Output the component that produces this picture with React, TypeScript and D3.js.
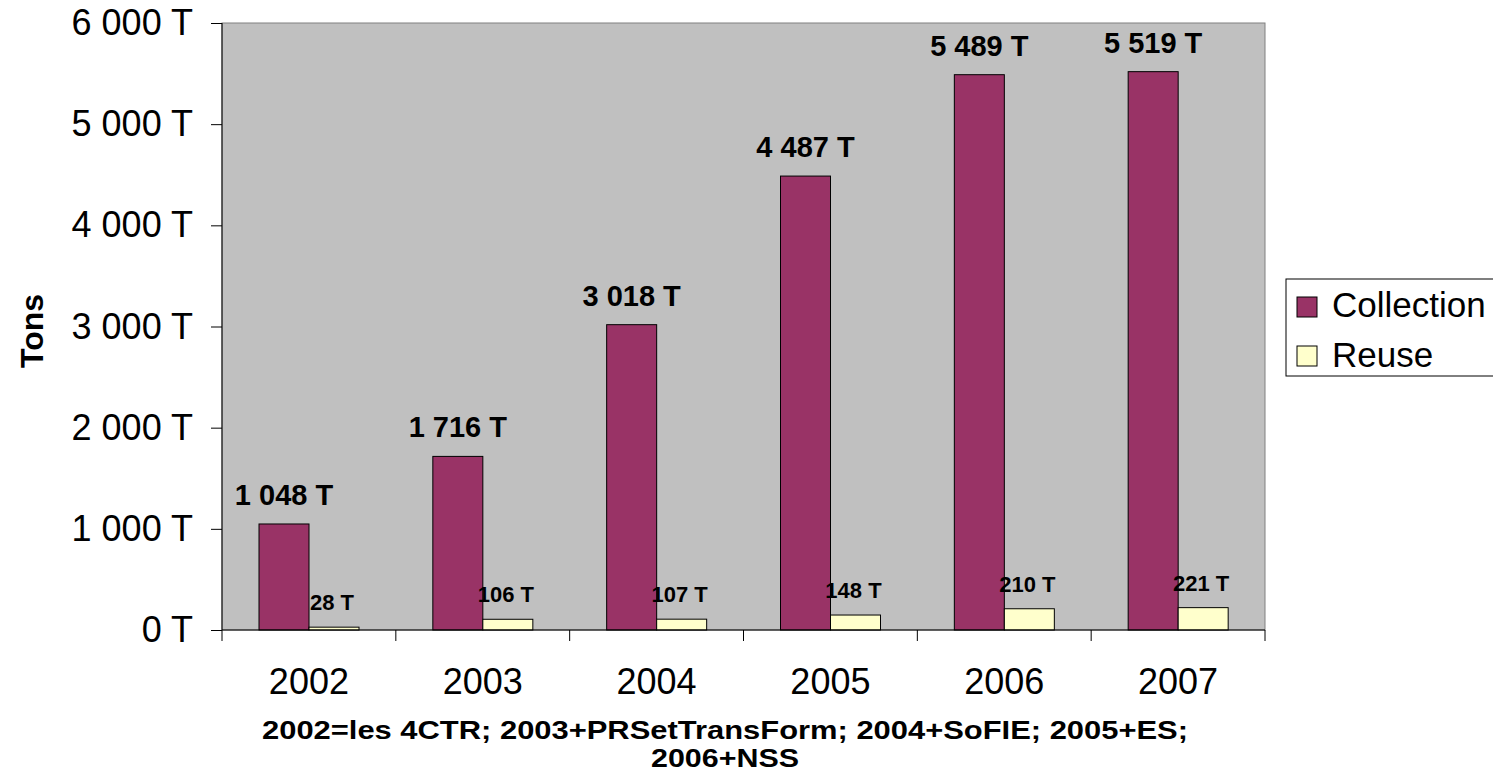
import React, { useRef, useEffect } from 'react';
import * as d3 from 'd3';

const years = ['2002', '2003', '2004', '2005', '2006', '2007'];
const collection = [1048, 1716, 3018, 4487, 5489, 5519];
const reuse = [28, 106, 107, 148, 210, 221];
const yTicks = [0, 1000, 2000, 3000, 4000, 5000, 6000];
const seriesNames = ['Collection', 'Reuse'];
const seriesColors = ['#993366', '#FFFFCC'];
const captionLines = ['2002=les 4CTR; 2003+PRSetTransForm; 2004+SoFIE; 2005+ES;', '2006+NSS'];
const captionWidths = [926, 148];

const fmt = (v: number) => d3.format(',')(v).replace(/,/g, ' ') + ' T';

const App = () => {
    const svgRef = useRef<SVGSVGElement>(null);

    const W = 1493;
    const H = 774;
    const margin = { top: 23, right: 228, bottom: 144, left: 222 };
    const width = W - margin.left - margin.right;
    const height = H - margin.top - margin.bottom;

    useEffect(() => {
        const svg = d3.select(svgRef.current);
        svg.selectAll('*').remove();
        svg.attr('width', W).attr('height', H);

        const font = '"Liberation Sans", Arial, sans-serif';

        const x = d3.scaleBand().domain(years).range([0, width]);
        const inner = d3.scaleBand().domain(seriesNames).range([37, 137]);
        const y = d3.scaleLinear().domain([0, 6000]).range([height, 0]);

        const chart = svg.append('g').attr('transform', `translate(${margin.left}, ${margin.top})`);

        // plot background
        chart.append('rect')
            .attr('width', width).attr('height', height)
            .attr('fill', '#C0C0C0')
            .attr('stroke', '#808080').attr('stroke-width', 1);

        const series = [collection, reuse];
        series.forEach((vals, si) => {
            chart.selectAll(`.bar${si}`)
                .data(vals)
                .enter()
                .append('rect')
                .attr('x', (d, i) => x(years[i])! + inner(seriesNames[si])!)
                .attr('y', (d) => y(d))
                .attr('width', inner.bandwidth())
                .attr('height', (d) => height - y(d))
                .attr('fill', seriesColors[si])
                .attr('stroke', '#000')
                .attr('stroke-width', 1);

            chart.selectAll(`.lab${si}`)
                .data(vals)
                .enter()
                .append('text')
                .attr('x', (d, i) => x(years[i])! + inner(seriesNames[si])! + inner.bandwidth() / 2 - (si === 0 ? 0 : 2))
                .attr('y', (d) => y(d) - (si === 0 ? 19 : 17))
                .attr('text-anchor', 'middle')
                .attr('font-family', font)
                .attr('font-weight', 'bold')
                .attr('font-size', si === 0 ? 29 : 22)
                .text((d) => fmt(d));
        });

        // y axis
        const yAxis = chart.append('g')
            .call(d3.axisLeft(y).tickValues(yTicks).tickSize(11).tickPadding(18).tickFormat((d) => fmt(d as number)));
        yAxis.select('.domain').attr('stroke', '#000').attr('d', `M0,0V${height}`);
        yAxis.selectAll('line').attr('stroke', '#000');
        yAxis.selectAll('text').attr('font-family', font).attr('font-size', 36).attr('fill', '#000');

        // x axis
        const xAxis = chart.append('g').attr('transform', `translate(0, ${height})`);
        xAxis.append('line').attr('x1', 0).attr('x2', width).attr('stroke', '#000');
        xAxis.selectAll('.xt')
            .data(d3.range(years.length + 1))
            .enter()
            .append('line')
            .attr('x1', (i) => i * x.bandwidth())
            .attr('x2', (i) => i * x.bandwidth())
            .attr('y1', 0).attr('y2', 11)
            .attr('stroke', '#000');
        xAxis.selectAll('.xl')
            .data(years)
            .enter()
            .append('text')
            .attr('x', (d) => x(d)! + x.bandwidth() / 2)
            .attr('y', 64)
            .attr('text-anchor', 'middle')
            .attr('font-family', font)
            .attr('font-size', 36)
            .text((d) => d);

        // caption
        captionLines.forEach((line, i) => {
            svg.append('text')
                .attr('x', 725)
                .attr('y', 739 + i * 28)
                .attr('text-anchor', 'middle')
                .attr('font-family', font)
                .attr('font-weight', 'bold')
                .attr('font-size', 25)
                .attr('textLength', captionWidths[i])
                .attr('lengthAdjust', 'spacingAndGlyphs')
                .text(line);
        });

        // y title
        svg.append('text')
            .attr('transform', 'translate(43, 331) rotate(-90)')
            .attr('text-anchor', 'middle')
            .attr('font-family', font)
            .attr('font-weight', 'bold')
            .attr('font-size', 32)
            .text('Tons');

        // legend
        const legend = svg.append('g').attr('transform', 'translate(1286, 279)');
        legend.append('rect')
            .attr('width', 220).attr('height', 97)
            .attr('fill', '#fff').attr('stroke', '#000').attr('stroke-width', 1);
        seriesNames.forEach((name, i) => {
            legend.append('rect')
                .attr('x', 11).attr('y', 18 + i * 49)
                .attr('width', 20).attr('height', 20)
                .attr('fill', seriesColors[i]).attr('stroke', '#000');
            legend.append('text')
                .attr('x', 46).attr('y', 38 + i * 50)
                .attr('font-family', font)
                .attr('font-size', 35)
                .text(name);
        });
    }, []);

    return (
        <div style={{ position: 'absolute', left: 0, top: 0 }}>
            <svg ref={svgRef}></svg>
        </div>
    );
};
export default App;
